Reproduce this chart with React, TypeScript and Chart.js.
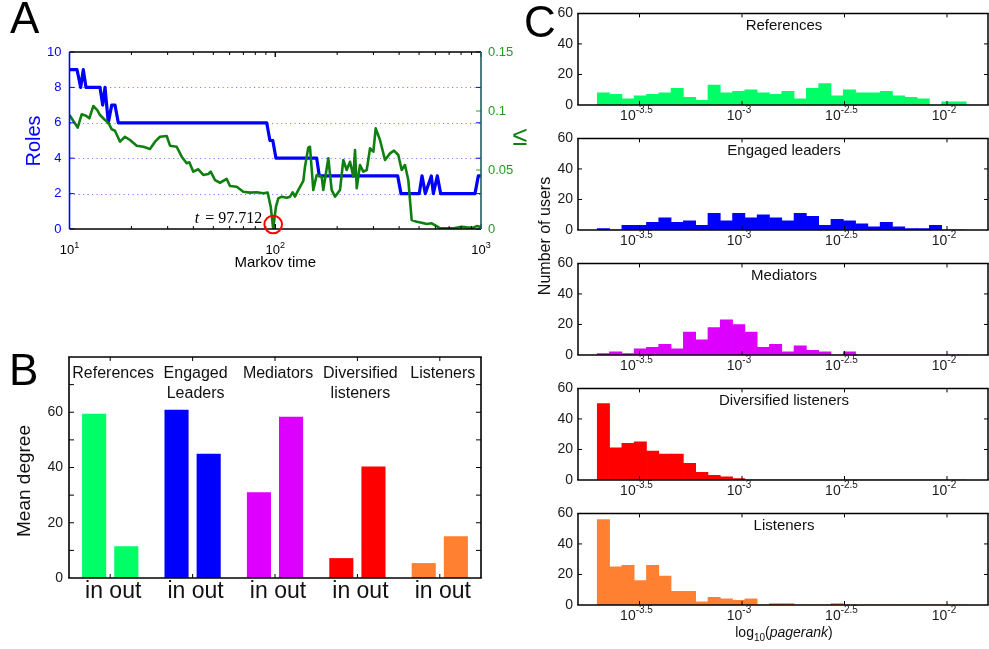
import React, { useEffect, useRef } from 'react';
import { Chart, registerables } from 'chart.js';
Chart.register(...registerables);

const FONT = '"Liberation Sans", Arial, Helvetica, sans-serif';
const SERIF = '"Liberation Serif", "Times New Roman", serif';

// ---------------- Panel A data ----------------
const rolesTime = [10, 10.88, 11.33, 11.67, 12.03, 14.07, 14.5, 14.88, 15.44, 16.04, 16.64, 17.27, 90.9, 94.2, 97.3, 100.8, 159, 163.7, 393.6, 408.4, 501.2, 516.8, 536.4, 573.5, 586.6, 613.3, 636.8, 935, 970.5, 1000];
const rolesCount = [9, 9, 8, 9, 8, 8, 7, 8, 6, 7, 7, 6, 6, 5, 5, 4, 4, 3, 3, 2, 2, 3, 2, 3, 2, 3, 2, 2, 3, 3];
const vTime = [10, 10.96, 11.46, 12.03, 12.48, 13.05, 13.65, 14.07, 14.88, 15.44, 16.04, 16.64, 17.6, 18.61, 19.68, 21.21, 22.85, 24.62, 26.04, 27.54, 29.68, 30.8, 33.19, 35.1, 37.12, 38.22, 39.97, 42.27, 44.7, 47.27, 48.56, 50.95, 53.88, 58.08, 60.27, 64.97, 69.93, 75.41, 81.27, 87.48, 91.9, 95.04, 97.712, 100.8, 103.5, 107.5, 113.7, 118.0, 121.6, 124.7, 129.4, 136.9, 139.5, 144.7, 147.5, 153.1, 159.0, 168.2, 171.2, 181.1, 188.1, 195.2, 206.4, 214.2, 222.5, 230.9, 239.6, 244.2, 248.9, 258.2, 267.9, 278.4, 288.9, 299.8, 307.8, 322.9, 341.5, 361.2, 377.7, 396.3, 411.7, 427.1, 443.3, 460.4, 486.9, 514.9, 544.6, 575.9, 609.1, 632.0, 733.6, 805.8, 852.2, 917.7, 953.2, 988.8, 1000];
const vValue = [0.0966, 0.0859, 0.0972, 0.096, 0.0938, 0.1042, 0.1008, 0.0966, 0.0924, 0.0901, 0.0845, 0.0833, 0.074, 0.0782, 0.0754, 0.0706, 0.0697, 0.0678, 0.074, 0.0782, 0.0788, 0.0706, 0.0697, 0.0613, 0.0557, 0.0565, 0.0486, 0.0506, 0.0458, 0.0466, 0.0486, 0.0415, 0.0392, 0.0424, 0.0364, 0.0358, 0.0316, 0.0308, 0.0311, 0.0303, 0.0308, 0.0189, 0.0003, 0.0189, 0.026, 0.0274, 0.0265, 0.0274, 0.0311, 0.0274, 0.033, 0.0408, 0.0528, 0.0689, 0.0697, 0.033, 0.0458, 0.0443, 0.033, 0.0599, 0.033, 0.0274, 0.033, 0.0585, 0.05, 0.057, 0.0443, 0.0669, 0.0345, 0.0542, 0.0486, 0.05, 0.0684, 0.0655, 0.0853, 0.0754, 0.0585, 0.0641, 0.0664, 0.0627, 0.05, 0.0542, 0.0415, 0.0076, 0.0062, 0.0053, 0.0042, 0.0048, 0.0025, 0.0006, 0.0006, 0.0019, 0.0014, 0.0011, 0.0025, 0.0019, 0.002];
const criticalTime = 97.712;
const criticalLabel = '97.712';
const timeTicks = [10, 100, 1000];
const timeExponents = ['1', '2', '3'];

// ---------------- Panel B data ----------------
const roleGroups = [['References'], ['Engaged', 'Leaders'], ['Mediators'], ['Diversified', 'listeners'], ['Listeners']];
const inDegree = [59.5, 60.9, 31.0, 7.2, 5.4];
const outDegree = [11.5, 45.0, 58.4, 40.4, 15.1];
const roleColors = ['#00ff66', '#0000ff', '#dd00ff', '#ff0000', '#ff8030'];

// ---------------- Panel C data ----------------
const histTitles = ['References', 'Engaged leaders', 'Mediators', 'Diversified listeners', 'Listeners'];
const binStart = -3.706;
const binWidth = 0.06;
const referencesCounts = [8, 7, 4, 6, 7, 8, 11, 5, 3, 13, 8, 9, 10, 8, 7, 9, 4, 11, 14, 6, 10, 8, 8, 9, 6, 5, 4, 0, 2, 2];
const engagedCounts = [1, 0, 3, 3, 5, 8, 5, 6, 3, 11, 6, 11, 8, 10, 8, 6, 11, 9, 3, 7, 6, 4, 2, 5, 2, 1, 1, 3, 0, 0];
const mediatorsCounts = [1, 2, 1, 4, 5, 7, 4, 15, 10, 18, 23, 20, 15, 5, 7, 2, 6, 3, 2, 0, 2, 0, 0, 0, 0, 0, 0, 0, 0, 0];
const diversifiedCounts = [50, 21, 24, 25, 19, 17, 17, 11, 5, 3, 2, 1, 0, 0, 0, 0, 0, 0, 0, 0, 0, 0, 0, 0, 0, 0, 0, 0, 0, 0];
const listenersCounts = [56, 25, 26, 16, 26, 19, 9, 9, 2, 5, 4, 3, 4, 0, 1, 1, 0, 0, 0, 1, 0, 0, 0, 0, 0, 0, 0, 0, 0, 0];
const histCounts = [referencesCounts, engagedCounts, mediatorsCounts, diversifiedCounts, listenersCounts];
const pagerankTicks = [-3.5, -3, -2.5, -2];
const pagerankExponents = ['-3.5', '-3', '-2.5', '-2'];

// ---------------- helpers ----------------
function seg(ctx: CanvasRenderingContext2D, color: string, w: number, x1: number, y1: number, x2: number, y2: number) {
  ctx.strokeStyle = color;
  ctx.lineWidth = w;
  ctx.beginPath();
  ctx.moveTo(x1, y1);
  ctx.lineTo(x2, y2);
  ctx.stroke();
}

function drawPow(ctx: CanvasRenderingContext2D, base: string, exp: string, cx: number, baseline: number, bs: number, es: number, color: string) {
  ctx.font = `${bs}px ${FONT}`;
  const wb = ctx.measureText(base).width;
  ctx.font = `${es}px ${FONT}`;
  const we = ctx.measureText(exp).width;
  const x0 = cx - (wb + we) / 2;
  ctx.fillStyle = color;
  ctx.textAlign = 'left';
  ctx.textBaseline = 'alphabetic';
  ctx.font = `${bs}px ${FONT}`;
  ctx.fillText(base, x0, baseline);
  ctx.font = `${es}px ${FONT}`;
  ctx.fillText(exp, x0 + wb, baseline - bs * 0.48);
}

function rotatedText(ctx: CanvasRenderingContext2D, text: string, x: number, y: number, font: string, color: string) {
  ctx.save();
  ctx.translate(x, y);
  ctx.rotate(-Math.PI / 2);
  ctx.font = font;
  ctx.fillStyle = color;
  ctx.textAlign = 'center';
  ctx.textBaseline = 'alphabetic';
  ctx.fillText(text, 0, 0);
  ctx.restore();
}

// ---------------- Panel A ----------------
const panelAPlugin = {
  id: 'panelA',
  beforeDatasetsDraw(chart: any) {
    const { ctx, chartArea: a } = chart;
    const y = chart.scales.y;
    ctx.save();
    ctx.setLineDash([1.2, 3.3]);
    for (const v of [2, 4, 6, 8]) {
      const py = Math.round(y.getPixelForValue(v)) + 0.5;
      seg(ctx, '#7f7fff', 1, a.left, py, a.right, py);
    }
    ctx.restore();
  },
  afterDraw(chart: any) {
    const { ctx, chartArea: a } = chart;
    const x = chart.scales.x, y = chart.scales.y, y2 = chart.scales.y2;
    ctx.save();
    for (const dec of [10, 100]) {
      for (let m = 1; m <= 10; m++) {
        const px = x.getPixelForValue(dec * m);
        const len = m === 1 || m === 10 ? 5 : 3;
        seg(ctx, '#000', 1, px, a.bottom, px, a.bottom - len);
        seg(ctx, '#000', 1, px, a.top, px, a.top + len);
      }
    }
    for (let v = 0; v <= 10; v += 2) {
      const py = y.getPixelForValue(v);
      seg(ctx, '#0000ff', 1, a.left, py, a.left + 5, py);
      seg(ctx, '#0000ff', 1, a.right, py, a.right - 5, py);
    }
    for (const v of [0.05, 0.1]) {
      const py = y2.getPixelForValue(v);
      seg(ctx, '#2a9a2a', 1, a.right, py, a.right - 5, py);
    }
    seg(ctx, '#000', 1.3, a.left, a.top, a.right, a.top);
    seg(ctx, '#000', 1.6, a.left, a.bottom, a.right, a.bottom);
    seg(ctx, '#0000ff', 1.6, a.left, a.top, a.left, a.bottom);
    seg(ctx, '#1f5f5f', 1.6, a.right, a.top, a.right, a.bottom);
    timeTicks.forEach((t, i) => drawPow(ctx, '10', timeExponents[i], x.getPixelForValue(t), a.bottom + 25, 13, 9, '#000'));
    ctx.font = `15px ${FONT}`;
    ctx.fillStyle = '#000';
    ctx.textAlign = 'center';
    ctx.fillText('Markov time', (a.left + a.right) / 2, a.bottom + 38);
    rotatedText(ctx, 'Roles', 40, (a.top + a.bottom) / 2 + 0.5, `20px ${FONT}`, '#0000ff');
    ctx.font = `27px ${FONT}`;
    ctx.fillStyle = '#0f800f';
    ctx.textAlign = 'center';
    ctx.textBaseline = 'middle';
    ctx.fillText('\u2264', 520, 138);
    const cx = x.getPixelForValue(criticalTime);
    const cy = y2.getPixelForValue(0) - 4.5;
    ctx.strokeStyle = '#ff0000';
    ctx.lineWidth = 2;
    ctx.beginPath();
    ctx.arc(cx, cy, 8.8, 0, Math.PI * 2);
    ctx.stroke();
    ctx.textBaseline = 'alphabetic';
    ctx.textAlign = 'left';
    ctx.font = `italic 16px ${SERIF}`;
    const wt = ctx.measureText('t').width;
    ctx.font = `16px ${SERIF}`;
    const rest = ' = ' + criticalLabel;
    const wr = ctx.measureText(rest).width;
    const endX = cx - 11;
    ctx.fillStyle = '#000';
    ctx.font = `italic 16px ${SERIF}`;
    ctx.fillText('t', endX - wr - wt - 2, a.bottom - 6.5);
    ctx.font = `16px ${SERIF}`;
    ctx.fillText(rest, endX - wr, a.bottom - 6.5);
    ctx.restore();
  },
};

function makeConfigA(): any {
  return {
    type: 'line',
    data: {
      datasets: [
        { label: 'V', data: vTime.map((t, i) => ({ x: t, y: vValue[i] })), yAxisID: 'y2', borderColor: '#0f800f', borderWidth: 2.6, borderJoinStyle: 'round', pointRadius: 0, tension: 0 },
        { label: 'Roles', data: rolesTime.map((t, i) => ({ x: t, y: rolesCount[i] })), yAxisID: 'y', borderColor: '#0000ff', borderWidth: 3.2, borderJoinStyle: 'round', pointRadius: 0, tension: 0 },
      ],
    },
    options: {
      responsive: false,
      animation: false,
      events: [],
      layout: { padding: { top: 52, left: 0, right: 0, bottom: 0 } },
      plugins: { legend: { display: false }, tooltip: { enabled: false } },
      scales: {
        x: { type: 'logarithmic', min: 10, max: 1000, ticks: { display: false }, grid: { display: false }, border: { display: false }, afterFit: (s: any) => { s.height = 101; } },
        y: { position: 'left', min: 0, max: 10, ticks: { stepSize: 2, color: '#0000ff', font: { family: FONT, size: 13 }, padding: 8 }, grid: { display: false, drawTicks: false }, border: { display: false }, afterFit: (s: any) => { s.width = 69.5; } },
        y2: { position: 'right', min: 0, max: 0.15, ticks: { stepSize: 0.05, color: '#229a22', font: { family: FONT, size: 13 }, padding: 7, callback: (v: number) => String(Number(v.toFixed(2))) }, grid: { display: false, drawTicks: false }, border: { display: false }, afterFit: (s: any) => { s.width = 59; } },
      },
    },
    plugins: [panelAPlugin],
  };
}

// ---------------- Panel B ----------------
const panelBPlugin = {
  id: 'panelB',
  afterDraw(chart: any) {
    const { ctx, chartArea: a } = chart;
    const x = chart.scales.x, y = chart.scales.y;
    ctx.save();
    for (let v = 10; v < 80; v += 10) {
      const py = y.getPixelForValue(v);
      seg(ctx, '#000', 1, a.left, py, a.left + 5, py);
      seg(ctx, '#000', 1, a.right, py, a.right - 5, py);
    }
    roleGroups.forEach((g, i) => {
      const px = x.getPixelForValue(i);
      seg(ctx, '#000', 1, px, a.top, px, a.top + 4);
      seg(ctx, '#000', 1, px, a.bottom, px, a.bottom - 4);
    });
    seg(ctx, '#000', 1.6, a.left - 0.8, a.top, a.right + 0.8, a.top);
    seg(ctx, '#000', 1.6, a.left - 0.8, a.bottom, a.right + 0.8, a.bottom);
    seg(ctx, '#000', 1.6, a.left, a.top, a.left, a.bottom);
    seg(ctx, '#000', 1.6, a.right, a.top, a.right, a.bottom);
    ctx.fillStyle = '#111';
    ctx.textAlign = 'center';
    ctx.textBaseline = 'alphabetic';
    roleGroups.forEach((g, i) => {
      const px = x.getPixelForValue(i) + 3;
      ctx.font = `16px ${FONT}`;
      g.forEach((line, k) => ctx.fillText(line, px, a.top + 21 + k * 20));
      ctx.font = `23px ${FONT}`;
      ctx.fillText('in out', px, a.bottom + 20);
    });
    rotatedText(ctx, 'Mean degree', 29.5, 151, `19px ${FONT}`, '#111');
    ctx.restore();
  },
};

function makeConfigB(): any {
  return {
    type: 'bar',
    data: {
      labels: roleGroups.map((g) => g.join(' ')),
      datasets: [
        { label: 'in', data: inDegree, backgroundColor: roleColors, borderWidth: 0 },
        { label: 'out', data: outDegree, backgroundColor: roleColors, borderWidth: 0 },
      ],
    },
    options: {
      responsive: false,
      animation: false,
      events: [],
      datasets: { bar: { categoryPercentage: 0.78, barPercentage: 0.75 } },
      layout: { padding: { top: 27, right: 59, left: 0, bottom: 0 } },
      plugins: { legend: { display: false }, tooltip: { enabled: false } },
      scales: {
        x: { ticks: { display: false }, grid: { display: false }, border: { display: false }, afterFit: (s: any) => { s.height = 71; } },
        y: { min: 0, max: 80, ticks: { stepSize: 10, autoSkip: false, color: '#1a1a1a', font: { family: FONT, size: 14 }, padding: 6, callback: (v: number) => (v % 20 === 0 && v < 80 ? String(v) : '') }, grid: { display: false, drawTicks: false }, border: { display: false }, afterFit: (s: any) => { s.width = 69; } },
      },
    },
    plugins: [panelBPlugin],
  };
}

// ---------------- Panel C ----------------
function makePanelCPlugin(idx: number) {
  return {
    id: 'panelC' + idx,
    afterDraw(chart: any) {
      const { ctx, chartArea: a } = chart;
      const x = chart.scales.x, y = chart.scales.y;
      ctx.save();
      for (const v of [20, 40]) {
        const py = y.getPixelForValue(v);
        seg(ctx, '#000', 1, a.left, py, a.left + 4, py);
        seg(ctx, '#000', 1, a.right, py, a.right - 4, py);
      }
      pagerankTicks.forEach((t) => {
        const px = x.getPixelForValue(t);
        seg(ctx, '#000', 1, px, a.top, px, a.top + 4);
        seg(ctx, '#000', 1, px, a.bottom, px, a.bottom - 4);
      });
      seg(ctx, '#000', 1.5, a.left - 0.75, a.top, a.right + 0.75, a.top);
      seg(ctx, '#000', 1.5, a.left - 0.75, a.bottom, a.right + 0.75, a.bottom);
      seg(ctx, '#000', 1.5, a.left, a.top, a.left, a.bottom);
      seg(ctx, '#000', 1.5, a.right, a.top, a.right, a.bottom);
      pagerankTicks.forEach((t, i) => drawPow(ctx, '10', pagerankExponents[i], x.getPixelForValue(t) - 3, a.bottom + 15, 14, 10, '#1a1a1a'));
      ctx.fillStyle = '#111';
      ctx.textAlign = 'center';
      ctx.textBaseline = 'alphabetic';
      ctx.font = `15px ${FONT}`;
      ctx.fillText(histTitles[idx], (a.left + a.right) / 2 + 1, a.top + 17);
      if (idx === histTitles.length - 1) {
        const parts: [string, string, number][] = [
          ['log', `14px ${FONT}`, 0],
          ['10', `10px ${FONT}`, 4],
          ['(', `14px ${FONT}`, 0],
          ['pagerank', `italic 14px ${FONT}`, 0],
          [')', `14px ${FONT}`, 0],
        ];
        let total = 0;
        parts.forEach(([t, f]) => { ctx.font = f; total += ctx.measureText(t).width; });
        let cx = (a.left + a.right) / 2 + 1 - total / 2;
        ctx.textAlign = 'left';
        parts.forEach(([t, f, dy]) => {
          ctx.font = f;
          ctx.fillText(t, cx, a.bottom + 32 + dy);
          cx += ctx.measureText(t).width;
        });
      }
      ctx.restore();
    },
  };
}

function makeConfigC(idx: number): any {
  const last = idx === histTitles.length - 1;
  return {
    type: 'bar',
    data: {
      datasets: [
        {
          label: histTitles[idx],
          data: histCounts[idx].map((c, k) => ({ x: binStart + binWidth * (k + 0.5), y: c })),
          backgroundColor: roleColors[idx],
          borderWidth: 0,
          barPercentage: 1,
          categoryPercentage: 1,
        },
      ],
    },
    options: {
      responsive: false,
      animation: false,
      events: [],
      layout: { padding: { top: 9, right: 1, left: 0, bottom: 0 } },
      plugins: { legend: { display: false }, tooltip: { enabled: false } },
      scales: {
        x: { type: 'linear', min: -3.8, max: -1.8, offset: false, ticks: { display: false, stepSize: 0.5 }, grid: { display: false }, border: { display: false }, afterFit: (s: any) => { s.height = last ? 44 : 20; } },
        y: { min: 0, max: 60, ticks: { stepSize: 20, color: '#1a1a1a', font: { family: FONT, size: 14 }, padding: 5 }, grid: { display: false, drawTicks: false }, border: { display: false }, afterFit: (s: any) => { s.width = 38; } },
      },
    },
    plugins: [makePanelCPlugin(idx)],
  };
}

// ---------------- components ----------------
function ChartBox({ left, top, width, height, make }: { left: number; top: number; width: number; height: number; make: () => any }) {
  const ref = useRef<HTMLCanvasElement>(null);
  useEffect(() => {
    const chart = new Chart(ref.current as HTMLCanvasElement, make());
    return () => chart.destroy();
  }, []);
  return <canvas ref={ref} width={width} height={height} style={{ position: 'absolute', left, top, width, height }} />;
}

function Letter({ text, left, top }: { text: string; left: number; top: number }) {
  return (
    <div style={{ position: 'absolute', left, top, font: `44px ${FONT}`, lineHeight: '44px', color: '#000' }}>{text}</div>
  );
}

export default function App() {
  return (
    <div style={{ position: 'absolute', left: 0, top: 0, width: 989, height: 649, background: '#fff', overflow: 'hidden' }}>
      <ChartBox left={0} top={0} width={540} height={330} make={makeConfigA} />
      <ChartBox left={0} top={330} width={540} height={319} make={makeConfigB} />
      {histTitles.map((t, i) => (
        <ChartBox key={t} left={540} top={125 * i} width={449} height={i === histTitles.length - 1 ? 149 : 125} make={() => makeConfigC(i)} />
      ))}
      <div
        style={{
          position: 'absolute',
          left: 545,
          top: 236,
          transform: 'translate(-50%, -50%) rotate(-90deg)',
          font: `16px ${FONT}`,
          lineHeight: '16px',
          whiteSpace: 'nowrap',
          color: '#111',
        }}
      >
        Number of users
      </div>
      <Letter text="A" left={10} top={-4} />
      <Letter text="B" left={9} top={348} />
      <Letter text="C" left={524} top={0} />
    </div>
  );
}
